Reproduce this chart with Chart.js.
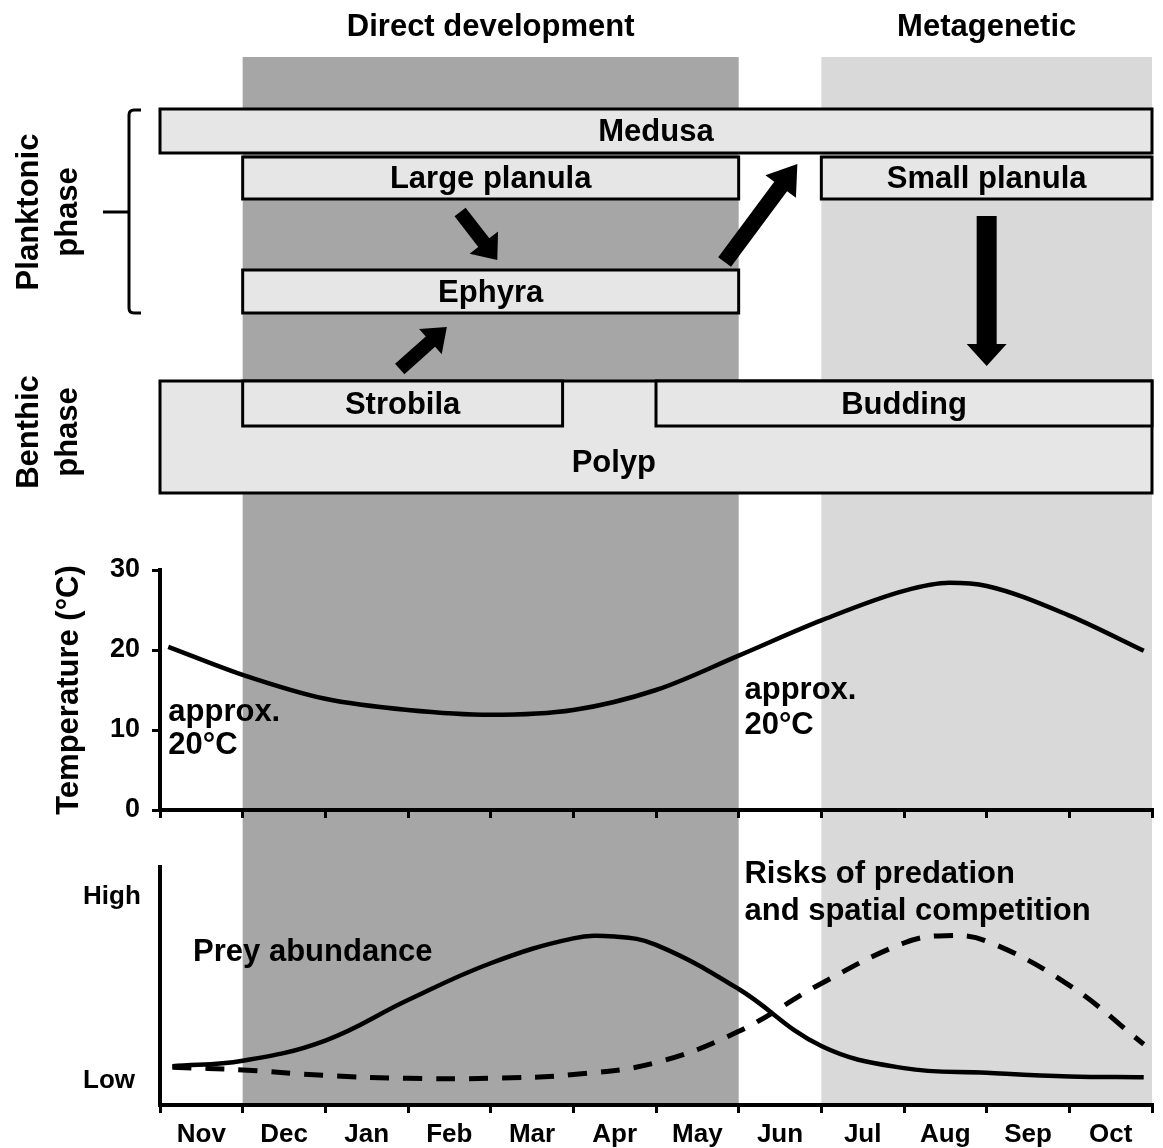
<!DOCTYPE html>
<html>
<head>
<meta charset="utf-8">
<script src="https://cdn.jsdelivr.net/npm/chart.js@4.4.1/dist/chart.umd.min.js"></script>
<style>
  body { margin: 0; background: #fff; }
  #wrap { position: relative; width: 1163px; height: 1148px; }
  canvas { position: absolute; left: 0; }
  #top { top: 0; }
  #bottom { top: 840px; }
</style>
</head>
<body>
<div id="wrap">
  <canvas id="top" width="1163" height="840"></canvas>
  <canvas id="bottom" width="1163" height="308"></canvas>
</div>
<script>
// months, Nov = 0 .. Oct end = 12
const months = ["Nov", "Dec", "Jan", "Feb", "Mar", "Apr", "May", "Jun", "Jul", "Aug", "Sep", "Oct"];

// temperature curve (°C)
const tempMonth = [0.1, 1, 2, 3, 4, 5, 6, 7, 8, 9, 9.55, 10, 11, 11.9];
const tempValue = [20.4, 16.9, 13.9, 12.5, 11.9, 12.5, 15.0, 19.3, 23.7, 27.4, 28.4, 28.0, 24.3, 19.9];
const tempTicks = [0, 10, 20, 30];

// relative levels, Low = 0, High = 1
const preyMonth = [0.15, 1, 2, 3, 4, 5, 5.5, 6, 7, 8, 9, 10, 11, 11.9];
const preyValue = [0.08, 0.11, 0.22, 0.44, 0.64, 0.775, 0.785, 0.74, 0.5, 0.19, 0.07, 0.045, 0.025, 0.02];
const riskMonth = [0.15, 1, 2, 3, 4, 5, 6, 7, 8, 9, 9.5, 10, 11, 11.9];
const riskValue = [0.075, 0.06, 0.03, 0.015, 0.015, 0.035, 0.1, 0.27, 0.53, 0.75, 0.79, 0.76, 0.52, 0.2];
const levelTicks = ["Low", "High"];

// life-cycle periods and stages (month ranges)
const periodNames = ["Direct development", "Metagenetic"];
const periodFrom = [1, 8];
const periodTo = [7, 12];
const stageNames = ["Medusa", "Large planula", "Small planula", "Ephyra", "Polyp", "Strobila", "Budding"];
const stageFrom = [0, 1, 8, 1, 0, 1, 6];
const stageTo = [12, 7, 12, 7, 12, 4.87, 12];

// layout of the diagram rows (px)
const stageRows = [[109, 153], [157, 199], [157, 199], [270, 313], [381, 493], [381, 426], [381, 426]];
const polypLabel = [5.49, 463];
const periodColors = ["#a6a6a6", "#d9d9d9"];
const arrows = [
  { from: [3.63, 212], to: [4.08, 260], w: 14, hw: 36, hl: 22 },
  { from: [2.9, 369], to: [3.47, 327], w: 14, hw: 34, hl: 22 },
  { from: [6.83, 262], to: [7.71, 164], w: 16, hw: 38, hl: 28 },
  { from: [10, 216], to: [10, 366], w: 20, hw: 40, hl: 22 }
];

const FONT = '"Liberation Sans", Arial, Helvetica, sans-serif';
const bold = (s) => `bold ${s}px ${FONT}`;

function drawArrow(ctx, x0, y0, x1, y1, w, hw, hl) {
  const a = Math.atan2(y1 - y0, x1 - x0);
  const len = Math.hypot(x1 - x0, y1 - y0);
  ctx.save();
  ctx.translate(x0, y0);
  ctx.rotate(a);
  ctx.beginPath();
  ctx.moveTo(0, -w / 2);
  ctx.lineTo(len - hl, -w / 2);
  ctx.lineTo(len - hl, -hw / 2);
  ctx.lineTo(len, 0);
  ctx.lineTo(len - hl, hw / 2);
  ctx.lineTo(len - hl, w / 2);
  ctx.lineTo(0, w / 2);
  ctx.closePath();
  ctx.fillStyle = "#000";
  ctx.fill();
  ctx.restore();
}

function drawBands(chart, y0, y1) {
  const { ctx, scales: { x } } = chart;
  periodNames.forEach((name, i) => {
    const a = x.getPixelForValue(periodFrom[i]);
    const b = x.getPixelForValue(periodTo[i]);
    ctx.fillStyle = periodColors[i];
    ctx.fillRect(a, y0, b - a, y1 - y0);
  });
}

function rotatedText(ctx, text, x, y) {
  ctx.save();
  ctx.translate(x, y);
  ctx.rotate(-Math.PI / 2);
  ctx.fillText(text, 0, 0);
  ctx.restore();
}

const diagramPlugin = {
  id: "diagram",
  beforeDraw(chart) {
    const { ctx, scales: { x } } = chart;
    ctx.save();
    drawBands(chart, 57, chart.height);

    ctx.fillStyle = "#000";
    ctx.font = bold(31);
    ctx.textAlign = "center";
    ctx.textBaseline = "middle";
    periodNames.forEach((name, i) => {
      const a = x.getPixelForValue(periodFrom[i]);
      const b = x.getPixelForValue(periodTo[i]);
      ctx.fillText(name, (a + b) / 2, 27);
    });

    // stage boxes
    stageNames.forEach((name, i) => {
      const a = x.getPixelForValue(stageFrom[i]);
      const b = x.getPixelForValue(stageTo[i]);
      const [t, btm] = stageRows[i];
      ctx.fillStyle = "#e6e6e6";
      ctx.fillRect(a, t, b - a, btm - t);
      ctx.lineWidth = 3;
      ctx.strokeStyle = "#000";
      ctx.strokeRect(a, t, b - a, btm - t);
    });
    ctx.fillStyle = "#000";
    stageNames.forEach((name, i) => {
      let cx = (x.getPixelForValue(stageFrom[i]) + x.getPixelForValue(stageTo[i])) / 2;
      let cy = (stageRows[i][0] + stageRows[i][1]) / 2 + 1.5;
      if (name === "Polyp") {
        cx = x.getPixelForValue(polypLabel[0]);
        cy = polypLabel[1];
      }
      ctx.fillText(name, cx, cy);
    });

    arrows.forEach(ar => {
      drawArrow(ctx, x.getPixelForValue(ar.from[0]), ar.from[1],
        x.getPixelForValue(ar.to[0]), ar.to[1], ar.w, ar.hw, ar.hl);
    });

    // phase labels and bracket
    rotatedText(ctx, "Planktonic", 29, 212);
    rotatedText(ctx, "phase", 68, 212);
    rotatedText(ctx, "Benthic", 29, 432);
    rotatedText(ctx, "phase", 68, 432);

    ctx.lineWidth = 3;
    ctx.strokeStyle = "#000";
    ctx.beginPath();
    ctx.moveTo(141, 110);
    ctx.lineTo(134, 110);
    ctx.quadraticCurveTo(129, 110, 129, 115);
    ctx.lineTo(129, 308);
    ctx.quadraticCurveTo(129, 313, 134, 313);
    ctx.lineTo(141, 313);
    ctx.moveTo(103, 212);
    ctx.lineTo(129, 212);
    ctx.stroke();
    ctx.restore();
  },
  afterDatasetsDraw(chart) {
    const { ctx, scales: { x, y } } = chart;
    ctx.save();
    ctx.fillStyle = "#000";
    ctx.font = bold(31);
    ctx.textAlign = "left";
    ctx.textBaseline = "middle";
    ctx.fillText("approx.", x.getPixelForValue(0.1), y.getPixelForValue(12.2));
    ctx.fillText("20°C", x.getPixelForValue(0.1), y.getPixelForValue(8.1));
    ctx.fillText("approx.", x.getPixelForValue(7.07), y.getPixelForValue(14.9));
    ctx.fillText("20°C", x.getPixelForValue(7.07), y.getPixelForValue(10.6));
    ctx.restore();
  }
};

const levelPlugin = {
  id: "levels",
  beforeDraw(chart) {
    chart.ctx.save();
    drawBands(chart, 0, chart.chartArea.bottom);
    chart.ctx.restore();
  },
  afterDatasetsDraw(chart) {
    const { ctx, scales: { x, y } } = chart;
    ctx.save();
    ctx.fillStyle = "#000";
    ctx.font = bold(31);
    ctx.textAlign = "left";
    ctx.textBaseline = "middle";
    ctx.fillText("Prey abundance", x.getPixelForValue(0.4), y.getPixelForValue(0.7));
    ctx.fillText("Risks of predation", x.getPixelForValue(7.07), y.getPixelForValue(1.12));
    ctx.fillText("and spatial competition", x.getPixelForValue(7.07), y.getPixelForValue(0.92));
    ctx.restore();
  }
};

const axisGrid = { drawOnChartArea: false, drawTicks: true, tickLength: 8, color: "#000", lineWidth: 3 };
const axisBorder = { display: true, color: "#000", width: 4 };
const toPoints = (xs, ys) => xs.map((m, i) => ({ x: m, y: ys[i] }));

new Chart(document.getElementById("top"), {
  type: "line",
  data: {
    datasets: [{
      data: toPoints(tempMonth, tempValue),
      borderColor: "#000",
      borderWidth: 4.5,
      pointRadius: 0,
      cubicInterpolationMode: "monotone",
      fill: false
    }]
  },
  options: {
    responsive: false,
    animation: false,
    devicePixelRatio: 1,
    layout: { padding: { top: 570, left: 0, right: 11, bottom: 0 } },
    plugins: { legend: { display: false }, tooltip: { enabled: false } },
    scales: {
      x: {
        type: "linear", min: 0, max: 12,
        ticks: { stepSize: 1, display: false },
        grid: axisGrid,
        border: axisBorder,
        afterFit: (s) => { s.height = 30; }
      },
      y: {
        min: 0, max: 30,
        afterBuildTicks: (s) => { s.ticks = tempTicks.map(v => ({ value: v })); },
        ticks: { color: "#000", font: { size: 27, weight: "bold", family: FONT }, padding: 12 },
        grid: axisGrid,
        border: axisBorder,
        title: {
          display: true, text: "Temperature (°C)", color: "#000",
          font: { size: 31, weight: "bold", family: FONT },
          padding: { top: 51, bottom: 0 }
        },
        afterFit: (s) => { s.width = 160; }
      }
    }
  },
  plugins: [diagramPlugin]
});

new Chart(document.getElementById("bottom"), {
  type: "line",
  data: {
    datasets: [
      {
        label: "Prey abundance",
        data: toPoints(preyMonth, preyValue),
        borderColor: "#000",
        borderWidth: 4.5,
        pointRadius: 0,
        tension: 0.4,
        fill: false
      },
      {
        label: "Risks of predation and spatial competition",
        data: toPoints(riskMonth, riskValue),
        borderColor: "#000",
        borderWidth: 5,
        borderDash: [19, 14],
        pointRadius: 0,
        tension: 0.4,
        fill: false
      }
    ]
  },
  options: {
    responsive: false,
    animation: false,
    devicePixelRatio: 1,
    layout: { padding: { top: 27, left: 83, right: 11, bottom: 0 } },
    plugins: { legend: { display: false }, tooltip: { enabled: false } },
    scales: {
      x: {
        type: "linear", min: 0, max: 12,
        ticks: {
          stepSize: 0.5, autoSkip: false, maxRotation: 0, padding: 6,
          color: "#000", font: { size: 26, weight: "bold", family: FONT },
          callback: (v) => Number.isInteger(v) ? "" : months[Math.floor(v)]
        },
        grid: Object.assign({}, axisGrid, {
          color: (c) => Number.isInteger(c.tick.value) ? "#000" : "rgba(0,0,0,0)"
        }),
        border: axisBorder,
        afterFit: (s) => { s.height = 43; }
      },
      y: {
        min: -0.1304, max: 1.163,
        afterBuildTicks: (s) => { s.ticks = levelTicks.map((t, i) => ({ value: i })); },
        ticks: {
          crossAlign: "far", color: "#000",
          font: { size: 26, weight: "bold", family: FONT },
          callback: (v) => levelTicks[v]
        },
        grid: { display: false },
        border: axisBorder,
        afterFit: (s) => { s.width = 77; }
      }
    }
  },
  plugins: [levelPlugin]
});
</script>
</body>
</html>
